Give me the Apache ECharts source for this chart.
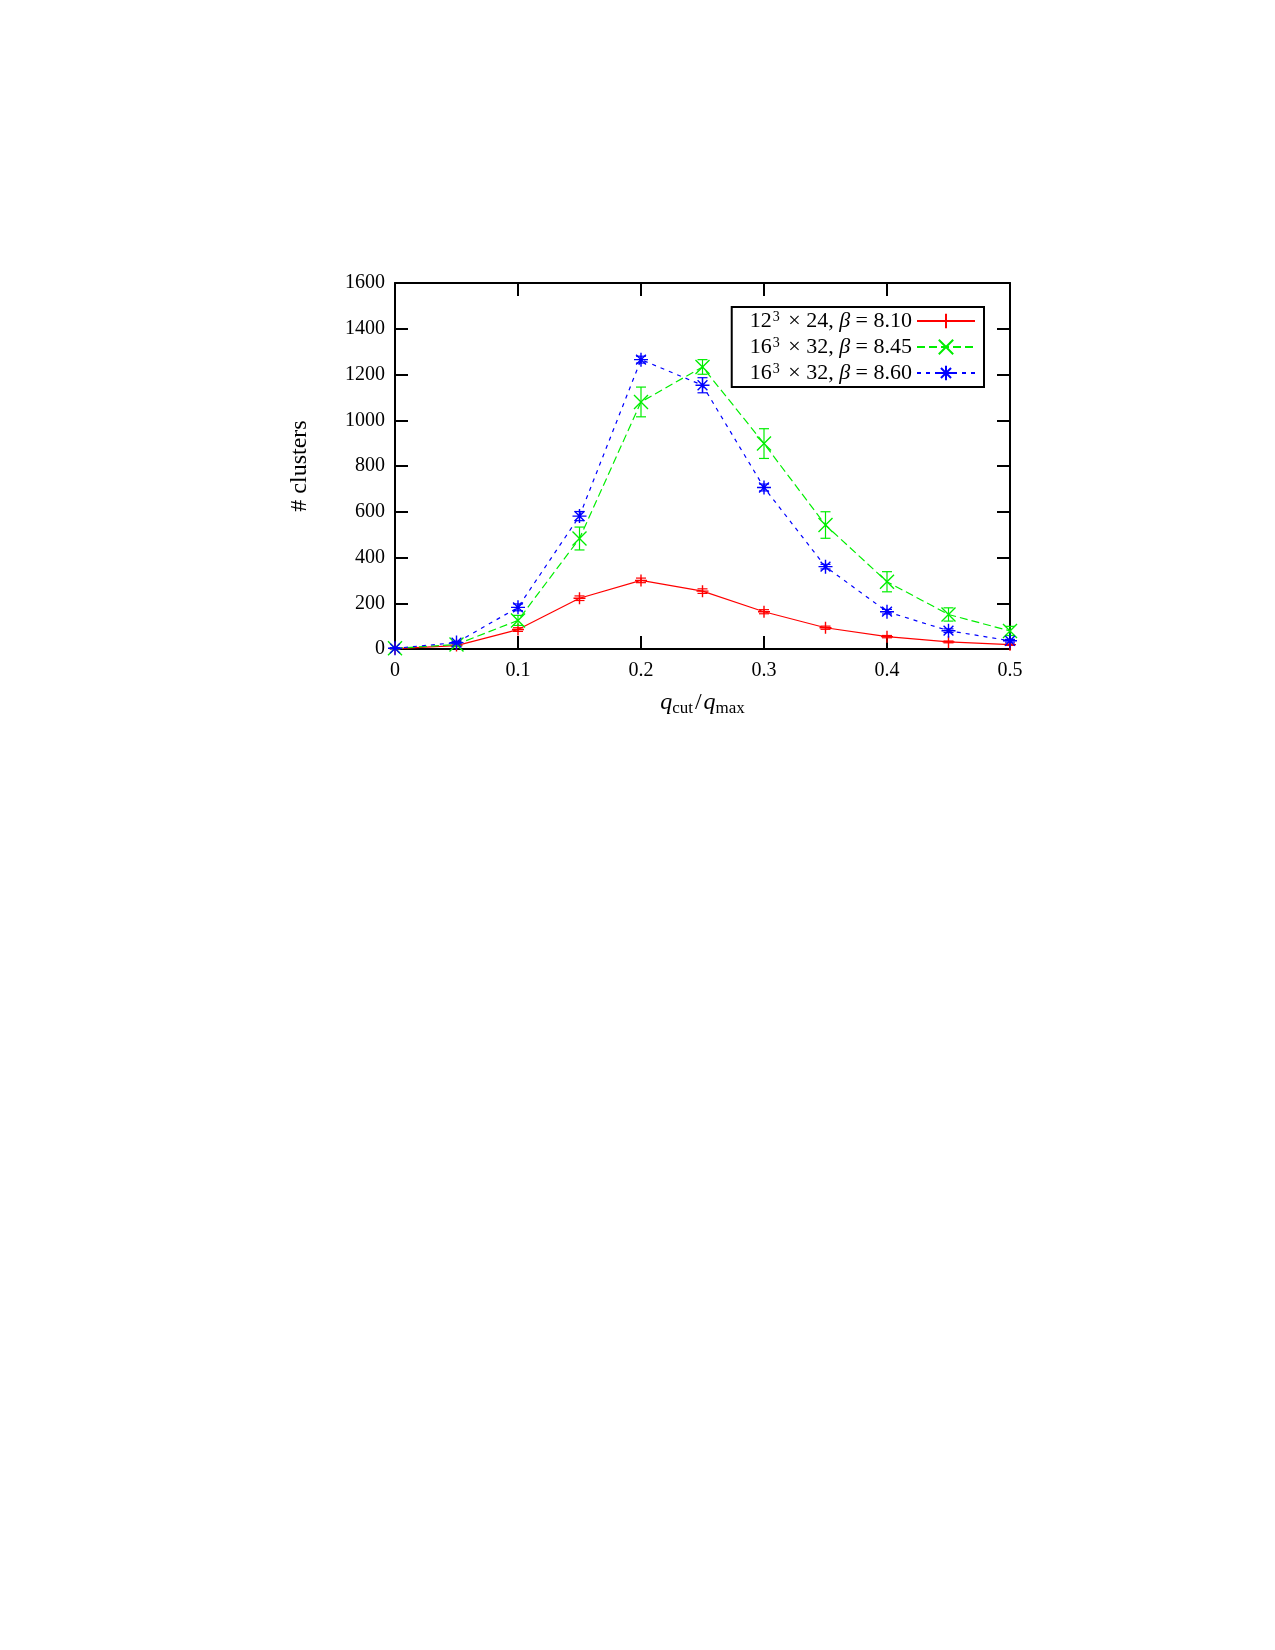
<!DOCTYPE html>
<html>
<head>
<meta charset="utf-8">
<script src="https://cdn.jsdelivr.net/npm/echarts@6/dist/echarts.min.js"></script>
<style>
html,body{margin:0;padding:0;background:#fff;}
#chart{width:1275px;height:1650px;}
</style>
</head>
<body>
<div id="chart"></div>
<script>
// ---- data ----
const qRatio = [0, 0.05, 0.1, 0.15, 0.2, 0.25, 0.3, 0.35, 0.4, 0.45, 0.5];
const seriesNames = ['12³ × 24, β = 8.10', '16³ × 32, β = 8.45', '16³ × 32, β = 8.60'];
const red = [2, 15, 85, 222, 300, 253, 163, 93, 54, 31, 19];
const redErr = [1, 3, 8, 10, 10, 10, 9, 7, 5, 4, 3];
const green = [3, 20, 125, 483, 1080, 1233, 898, 542, 294, 151, 79];
const greenErr = [2, 5, 22, 50, 65, 32, 65, 58, 44, 29, 20];
const blue = [3, 28, 182, 581, 1265, 1153, 706, 360, 163, 80, 36];
const blueErr = [2, 5, 15, 20, 15, 33, 15, 10, 10, 8, 6];
const yTicks = [0, 200, 400, 600, 800, 1000, 1200, 1400, 1600];
const xTicks = [0, 0.1, 0.2, 0.3, 0.4, 0.5];

const colors = ['#ff0000', '#00ee00', '#0000ff'];
const symbols = [
  'path://M0,5L10,5M5,0L5,10',
  'path://M0,0L10,10M10,0L0,10',
  'path://M0,5L10,5M5,0L5,10M1.5,1.5L8.5,8.5M8.5,1.5L1.5,8.5'
];
const dashes = ['solid', [8, 4], [4, 5]];
const values = [red, green, blue];
const errs = [redErr, greenErr, blueErr];

const FONT = 'Liberation Serif';

const series = [];
values.forEach((vals, i) => {
  series.push({
    name: seriesNames[i],
    type: 'line',
    data: qRatio.map((x, k) => [x, vals[k]]),
    symbol: symbols[i],
    symbolSize: i === 0 ? 12 : 14,
    showSymbol: true,
    clip: false,
    z: 3 + i,
    lineStyle: { color: colors[i], width: 1.2, type: dashes[i] },
    itemStyle: { color: colors[i], borderColor: colors[i], borderWidth: 1.4 },
    emphasis: { disabled: true }
  });
  series.push({
    name: 'err' + i,
    type: 'custom',
    clip: false,
    z: 3 + i,
    data: qRatio.map((x, k) => [x, vals[k] - errs[i][k], vals[k] + errs[i][k]]),
    encode: { x: 0, y: [1, 2] },
    renderItem: function (params, api) {
      const x = api.value(0);
      const lo = api.coord([x, api.value(1)]);
      const hi = api.coord([x, api.value(2)]);
      const w = 5;
      const st = { stroke: colors[i], lineWidth: 1.2 };
      return {
        type: 'group',
        children: [
          { type: 'line', shape: { x1: lo[0], y1: lo[1], x2: hi[0], y2: hi[1] }, style: st },
          { type: 'line', shape: { x1: lo[0] - w, y1: lo[1], x2: lo[0] + w, y2: lo[1] }, style: st },
          { type: 'line', shape: { x1: hi[0] - w, y1: hi[1], x2: hi[0] + w, y2: hi[1] }, style: st }
        ]
      };
    }
  });
});

function legendRich(name) {
  const m = name.match(/^(\d+)³ × (\d+), β = (.*)$/);
  return '{n|' + m[1] + '}{s|3}{n| × ' + m[2] + ', }{i|β}{n| = ' + m[3] + '}';
}

const axisCommonX = {
  type: 'value', min: 0, max: 0.5, interval: 0.1,
  axisLine: { show: true, onZero: false, lineStyle: { color: '#000', width: 2 } },
  axisTick: { show: true, inside: true, length: 13, lineStyle: { color: '#000', width: 2 } },
  splitLine: { show: false }
};
const axisCommonY = {
  type: 'value', min: 0, max: 1600, interval: 200,
  axisLine: { show: true, onZero: false, lineStyle: { color: '#000', width: 2 } },
  axisTick: { show: true, inside: true, length: 13, lineStyle: { color: '#000', width: 2 } },
  splitLine: { show: false }
};

const option = {
  animation: false,
  backgroundColor: '#fff',
  textStyle: { fontFamily: FONT },
  grid: { left: 395, top: 283, right: 265, bottom: 1001, containLabel: false },
  xAxis: [
    Object.assign({}, axisCommonX, {
      position: 'bottom',
      name: '{i|q}{sub|cut}{n|/}{i|q}{sub|max}',
      nameLocation: 'middle',
      nameGap: 40,
      nameTextStyle: {
        rich: {
          i: { fontFamily: FONT, fontStyle: 'italic', fontSize: 24, color: '#000', lineHeight: 28, verticalAlign: 'middle' },
          n: { fontFamily: FONT, fontSize: 24, color: '#000', lineHeight: 28, verticalAlign: 'middle', padding: [0, 2, 0, 2] },
          sub: { fontFamily: FONT, fontSize: 17, color: '#000', lineHeight: 17, verticalAlign: 'bottom' }
        }
      },
      axisLabel: {
        show: true, margin: 12, color: '#000', fontFamily: FONT, fontSize: 20,
        formatter: v => {
          const t = xTicks.find(x => Math.abs(x - v) < 1e-9);
          return t === undefined ? '' : String(t);
        }
      }
    }),
    Object.assign({}, axisCommonX, { position: 'top', axisLabel: { show: false } })
  ],
  yAxis: [
    Object.assign({}, axisCommonY, {
      position: 'left',
      name: '# clusters',
      nameLocation: 'middle',
      nameGap: 83,
      nameRotate: 90,
      nameTextStyle: { fontFamily: FONT, fontSize: 24, color: '#000' },
      axisLabel: {
        show: true, margin: 10, color: '#000', fontFamily: FONT, fontSize: 20,
        formatter: v => {
          const t = yTicks.find(y => y === v);
          return t === undefined ? '' : String(t);
        }
      }
    }),
    Object.assign({}, axisCommonY, { position: 'right', axisLabel: { show: false } })
  ],
  legend: {
    data: seriesNames,
    orient: 'vertical',
    align: 'right',
    right: 291,
    top: 307,
    itemWidth: 58,
    itemHeight: 18,
    itemGap: 4,
    padding: [3, 8, 3, 18],
    borderColor: '#000',
    borderWidth: 2,
    selectedMode: false,
    formatter: legendRich,
    textStyle: {
      fontFamily: FONT,
      fontSize: 22,
      color: '#000',
      rich: {
        n: { fontFamily: FONT, fontSize: 22, color: '#000', lineHeight: 22, verticalAlign: 'bottom' },
        i: { fontFamily: FONT, fontSize: 22, fontStyle: 'italic', color: '#000', lineHeight: 22, verticalAlign: 'bottom' },
        s: { fontFamily: FONT, fontSize: 14, color: '#000', lineHeight: 14, verticalAlign: 'top', padding: [0, 3, 0, 1] }
      }
    }
  },
  series: series
};

const chart = echarts.init(document.getElementById('chart'), null, { renderer: 'canvas' });
chart.setOption(option);
</script>
</body>
</html>
